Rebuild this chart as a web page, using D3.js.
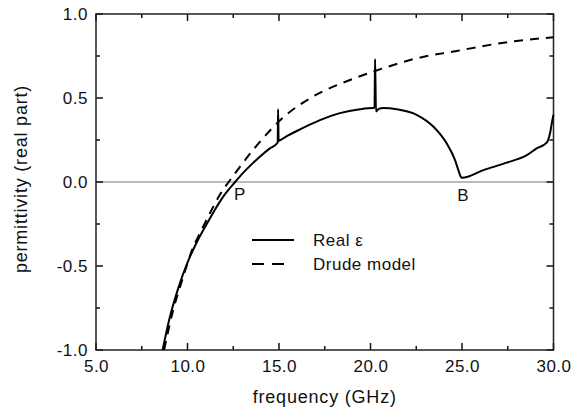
<!DOCTYPE html>
<html>
<head>
<meta charset="utf-8">
<script src="https://cdn.jsdelivr.net/npm/d3@7"></script>
<style>
  body { margin: 0; background: #fff; }
  text { font-family: "Liberation Sans", Arial, sans-serif; fill: #111; }
</style>
</head>
<body>
<svg id="chart" width="588" height="414"></svg>
<script>
// real part of permittivity
const realFreq = [8.64, 9.0, 9.5, 10.0, 10.5, 11.0, 11.5, 12.0, 12.6, 13.0, 13.5, 14.0, 14.5, 14.93, 14.95, 14.98, 15.05,
    15.5, 16.0, 17.24, 18.33, 19.43, 20.15, 20.22, 20.25, 20.3, 20.45, 20.7, 21.43, 22.52, 23.43, 24.16, 24.62,
    24.8, 24.93, 25.0, 26.17, 27.44, 28.54, 29.08, 29.63, 29.81, 29.94, 30.0];
const realEps = [-1.0, -0.82, -0.63, -0.48, -0.36, -0.26, -0.165, -0.08, 0.0, 0.05, 0.105, 0.155, 0.20, 0.235, 0.433, 0.245, 0.248,
    0.277, 0.305, 0.368, 0.41, 0.433, 0.44, 0.44, 0.732, 0.42, 0.435, 0.44, 0.433, 0.40, 0.33, 0.23, 0.13,
    0.071, 0.032, 0.025, 0.071, 0.115, 0.16, 0.20, 0.234, 0.29, 0.37, 0.40];

// drude model curve
const drudeFreq = [8.72, 9.2, 9.72, 10.23, 10.77, 11.3, 11.8, 12.25, 12.69, 13.69, 15.24, 16.88, 18.88, 20.15, 22.52, 24.71, 27.08, 30.0];
const drudeEps = [-1.0, -0.77, -0.58, -0.41, -0.285, -0.17, -0.07, 0.0, 0.065, 0.205, 0.385, 0.51, 0.607, 0.657, 0.736, 0.78, 0.826, 0.862];

const xMajor = [5, 10, 15, 20, 25, 30];
const xMinor = [7.5, 12.5, 17.5, 22.5, 27.5];
const yMajor = [-1, -0.5, 0, 0.5, 1];
const yMinor = [-0.75, -0.25, 0.25, 0.75];

const svg = d3.select("#chart");
const plotLeft = 96, plotRight = 553.5, plotTop = 14, plotBottom = 350;

const x = d3.scaleLinear().domain([5, 30]).range([plotLeft, plotRight]);
const y = d3.scaleLinear().domain([-1, 1]).range([plotBottom, plotTop]);

const fmt = d => d.toFixed(1);

svg.append("rect").attr("width", 588).attr("height", 414).attr("fill", "#fff");

// zero line
svg.append("line")
    .attr("x1", plotLeft).attr("x2", plotRight)
    .attr("y1", y(0)).attr("y2", y(0))
    .attr("stroke", "#777").attr("stroke-width", 1.2);

// tick labels from the axes, tick marks drawn below by hand
function styleAxis(g) {
    g.select(".domain").remove();
    g.selectAll(".tick line").remove();
    g.selectAll(".tick text").style("font-size", "17px").style("letter-spacing", "0.5px").attr("fill", "#111");
}

svg.append("g").attr("transform", `translate(0,${plotBottom})`)
    .call(d3.axisBottom(x).tickValues(xMajor).tickSize(0).tickPadding(10).tickFormat(fmt))
    .call(styleAxis);
svg.append("g").attr("transform", `translate(${plotLeft},0)`)
    .call(d3.axisLeft(y).tickValues(yMajor).tickSize(0).tickPadding(8).tickFormat(fmt))
    .call(styleAxis);

const ticks = svg.append("g").attr("stroke", "#111").attr("stroke-width", 1.5);
function xTicks(vals, len) {
    vals.forEach(v => {
        ticks.append("line").attr("x1", x(v)).attr("x2", x(v)).attr("y1", plotBottom).attr("y2", plotBottom - len);
        ticks.append("line").attr("x1", x(v)).attr("x2", x(v)).attr("y1", plotTop).attr("y2", plotTop + len);
    });
}
function yTicks(vals, len) {
    vals.forEach(v => {
        ticks.append("line").attr("y1", y(v)).attr("y2", y(v)).attr("x1", plotLeft).attr("x2", plotLeft + len);
        ticks.append("line").attr("y1", y(v)).attr("y2", y(v)).attr("x1", plotRight).attr("x2", plotRight - len);
    });
}
xTicks(xMajor, 7);
xTicks(xMinor, 4);
yTicks(yMajor, 7);
yTicks(yMinor, 4);

// frame
svg.append("rect")
    .attr("x", plotLeft).attr("y", plotTop)
    .attr("width", plotRight - plotLeft).attr("height", plotBottom - plotTop)
    .attr("fill", "none").attr("stroke", "#222").attr("stroke-width", 1.5);

const line = d3.line()
    .x(d => x(d[0]))
    .y(d => y(d[1]))
    .curve(d3.curveMonotoneX);

svg.append("path")
    .datum(drudeFreq.map((f, i) => [f, drudeEps[i]]))
    .attr("d", line)
    .attr("fill", "none").attr("stroke", "#000").attr("stroke-width", 2)
    .attr("stroke-dasharray", "9,7");

svg.append("path")
    .datum(realFreq.map((f, i) => [f, realEps[i]]))
    .attr("d", line)
    .attr("fill", "none").attr("stroke", "#000").attr("stroke-width", 2)
    .attr("stroke-linejoin", "miter");

// point labels
svg.append("text").attr("x", x(12.85)).attr("y", y(0) + 18)
    .attr("text-anchor", "middle").style("font-size", "17px").text("P");
svg.append("text").attr("x", x(25.05)).attr("y", y(0) + 19)
    .attr("text-anchor", "middle").style("font-size", "17px").text("B");

// legend
const legend = svg.append("g");
legend.append("line").attr("x1", 252).attr("x2", 294).attr("y1", 240).attr("y2", 240)
    .attr("stroke", "#000").attr("stroke-width", 2);
legend.append("line").attr("x1", 252).attr("x2", 284).attr("y1", 264).attr("y2", 264)
    .attr("stroke", "#000").attr("stroke-width", 2).attr("stroke-dasharray", "12,8");
legend.append("text").attr("x", 313).attr("y", 246)
    .style("font-size", "17px").style("letter-spacing", "0.5px").text("Real ε");
legend.append("text").attr("x", 313).attr("y", 270)
    .style("font-size", "17px").style("letter-spacing", "0.5px").text("Drude model");

// axis titles
svg.append("text").attr("x", (plotLeft + plotRight) / 2).attr("y", 403)
    .attr("text-anchor", "middle").style("font-size", "18px").style("letter-spacing", "0.8px")
    .text("frequency (GHz)");
svg.append("text")
    .attr("transform", `translate(27,${(plotTop + plotBottom) / 2 - 3}) rotate(-90)`)
    .attr("text-anchor", "middle").style("font-size", "18px").style("letter-spacing", "0.8px")
    .text("permittivity (real part)");
</script>
</body>
</html>
